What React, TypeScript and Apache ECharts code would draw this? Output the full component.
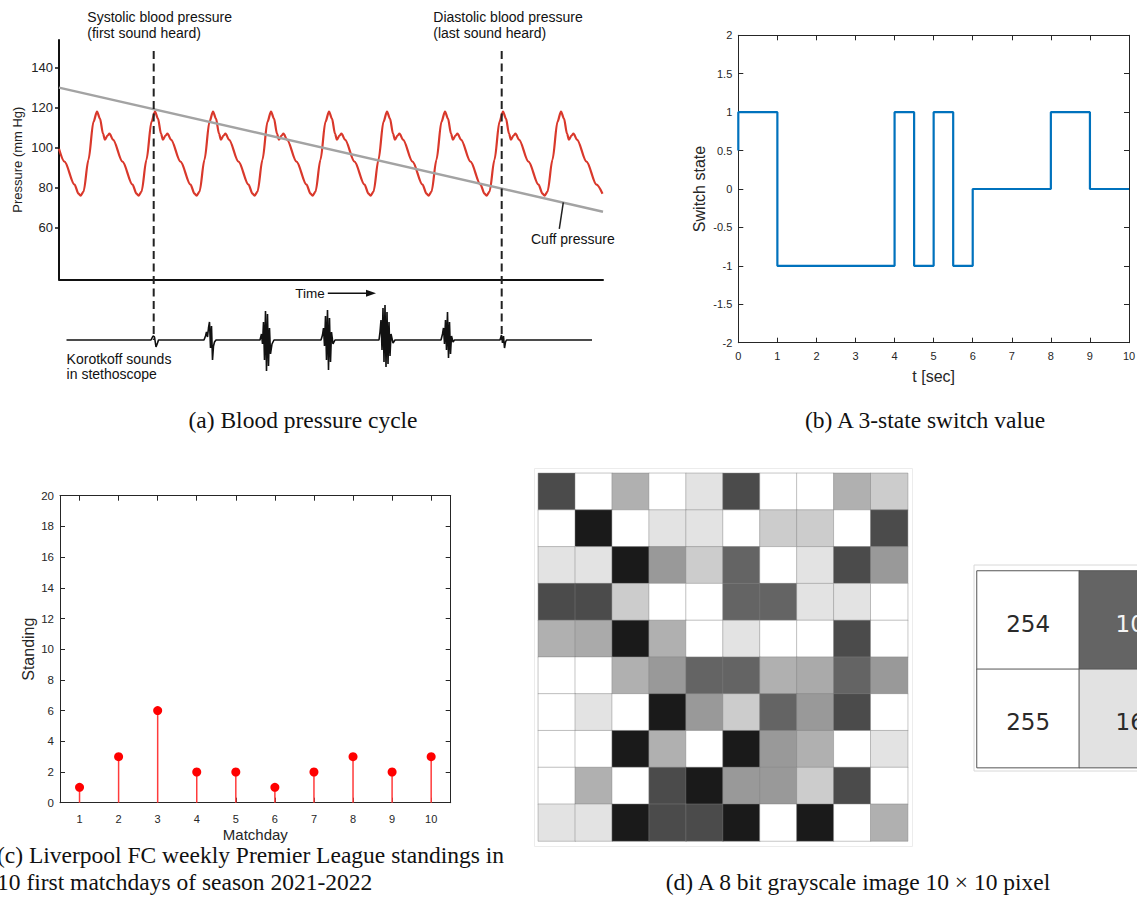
import React, { useEffect, useRef } from "react";
import * as echarts from "echarts";

// ---------- (a) Blood pressure cycle (time axis in arbitrary units 0..544) ----------
const pulseTime = [
  0, 5.5, 15.5, 19.5,
  21.5, 24.5, 29.5, 34.5, 38, 41, 44, 46, 48.5, 50.5, 54, 63.5, 73.5, 77.5,
  79.5, 82.5, 87.5, 92.5, 96, 99, 102, 104, 106.5, 108.5, 112, 121.5, 131.5, 135.5,
  137.5, 140.5, 145.5, 150.5, 154, 157, 160, 162, 164.5, 166.5, 170, 179.5, 189.5, 193.5,
  195.5, 198.5, 203.5, 208.5, 212, 215, 218, 220, 222.5, 224.5, 228, 237.5, 247.5, 251.5,
  253.5, 256.5, 261.5, 266.5, 270, 273, 276, 278, 280.5, 282.5, 286, 295.5, 305.5, 309.5,
  311.5, 314.5, 319.5, 324.5, 328, 331, 334, 336, 338.5, 340.5, 344, 353.5, 363.5, 367.5,
  369.5, 372.5, 377.5, 382.5, 386, 389, 392, 394, 396.5, 398.5, 402, 411.5, 421.5, 425.5,
  427.5, 430.5, 435.5, 440.5, 444, 447, 450, 452, 454.5, 456.5, 460, 469.5, 479.5, 483.5,
  485.5, 488.5, 493.5, 498.5, 502, 505, 508, 510, 512.5, 514.5, 518, 527.5, 537.5, 543.5,
];
const pulsePressure = [
  99.4, 93, 81.5, 77,
  76, 78, 94, 113, 118, 114.5, 107, 104, 106, 107, 104, 93, 81.5, 77,
  76, 78, 94, 113, 118, 114.5, 107, 104, 106, 107, 104, 93, 81.5, 77,
  76, 78, 94, 113, 118, 114.5, 107, 104, 106, 107, 104, 93, 81.5, 77,
  76, 78, 94, 113, 118, 114.5, 107, 104, 106, 107, 104, 93, 81.5, 77,
  76, 78, 94, 113, 118, 114.5, 107, 104, 106, 107, 104, 93, 81.5, 77,
  76, 78, 94, 113, 118, 114.5, 107, 104, 106, 107, 104, 93, 81.5, 77,
  76, 78, 94, 113, 118, 114.5, 107, 104, 106, 107, 104, 93, 81.5, 77,
  76, 78, 94, 113, 118, 114.5, 107, 104, 106, 107, 104, 93, 81.5, 77,
  76, 78, 94, 113, 118, 114.5, 107, 104, 106, 107, 104, 93, 81.5, 77,
];
const cuffTime = [0, 544];
const cuffPressure = [130, 68];
const cuffLeaderTime = [504.3, 500.3];
const cuffLeaderPressure = [72.7, 59.4];
const pressureTicks = [60, 80, 100, 120, 140];
const soundMarkerTimes = [94.7, 442.7];
const markerTop = 289;
// Korotkoff trace: time, amplitude (px-like units above baseline)
const korotkoffTime = [
  7.5,
  92, 94, 95.5, 97, 98.5, 99.5,
  145, 146.5, 147.5, 148.5, 149.5, 150.5, 151.5, 152.5, 153.5, 154.5, 155.5, 157,
  201, 202.5, 203.5, 204.5, 205.5, 206.5, 207.5, 208.5, 209.5, 210.5, 211.5, 213, 215,
  262, 263.5, 264.5, 265.5, 266.5, 267.5, 268.5, 269.5, 270.5, 271.5, 272.5, 274, 276,
  320, 321, 322, 323, 324, 325, 326, 327, 328, 329, 330, 331, 332, 334, 336,
  382, 383.5, 384.5, 385.5, 386.5, 387.5, 388.5, 389.5, 390.5, 391.5, 392.5, 394, 395.5,
  441, 442.5, 443.5, 444.5, 445.5, 446.5, 447.5,
  533,
];
const korotkoffAmp = [
  0,
  0, 4, 3, -7, -3, 0,
  0, 4, 8, 3, 12, 18, -8, 14, -20, -6, -2, 0,
  0, 6, -4, 18, -20, 29, -31, 26, -26, 12, -14, -4, 0,
  0, 5, 12, -6, 24, -20, 30, -30, 22, -22, 8, -4, 0,
  0, 8, 20, -10, 32, -22, 35, -27, 28, -24, 18, -16, 6, -3, 0,
  0, 6, 12, -4, 20, -10, 28, -18, 18, -14, 4, -2, 0,
  0, 5, -3, 4, -8, -2, 0,
  0,
];

// ---------- (b) 3-state switch ----------
const switchTime = [0, 0, 1, 1, 4, 4, 4.5, 4.5, 5, 5, 5.5, 5.5, 6, 6, 8, 8, 9, 9, 10];
const switchState = [0.5, 1, 1, -1, -1, 1, 1, -1, -1, 1, 1, -1, -1, 0, 0, 1, 1, 0, 0];

// ---------- (c) Liverpool standings ----------
const matchdays = ["1", "2", "3", "4", "5", "6", "7", "8", "9", "10"];
const standings = [1, 3, 6, 2, 2, 1, 2, 3, 2, 3];

// ---------- (d) 10x10 grayscale image ----------
const pixelCols = ["c1", "c2", "c3", "c4", "c5", "c6", "c7", "c8", "c9", "c10"];
const pixelRows = ["r1", "r2", "r3", "r4", "r5", "r6", "r7", "r8", "r9", "r10"];
const grayRows = [
  [75, 255, 176, 255, 227, 75, 255, 255, 176, 204],
  [255, 26, 255, 227, 227, 255, 204, 204, 255, 75],
  [227, 227, 26, 153, 204, 100, 255, 227, 75, 153],
  [75, 75, 204, 255, 255, 100, 100, 227, 227, 255],
  [176, 170, 26, 176, 255, 227, 255, 255, 75, 255],
  [255, 255, 176, 153, 100, 100, 176, 170, 100, 153],
  [255, 227, 255, 26, 153, 204, 100, 153, 75, 255],
  [255, 255, 26, 176, 255, 26, 153, 176, 255, 227],
  [255, 176, 255, 75, 26, 153, 153, 204, 75, 255],
  [227, 227, 26, 75, 75, 26, 255, 26, 255, 176],
];
const zoomCols = ["z1", "z2"];
const zoomRows = ["y1", "y2"];
const zoomCells = [
  [0, 0, 254],
  [1, 0, 102],
  [0, 1, 255],
  [1, 1, 165],
];

const SANS = '"Liberation Sans", Arial, Helvetica, sans-serif';
const SERIF = '"Liberation Serif", "Times New Roman", serif';
const AX = "#262626";
const CAPTION = 23.5;

function boxAxis(extra: any) {
  return {
    axisLine: { show: true, onZero: false, lineStyle: { color: AX, width: 1 } },
    axisTick: { show: true, inside: true, length: 5, lineStyle: { color: AX, width: 1 } },
    splitLine: { show: false },
    ...extra,
  };
}

function text(x: number, y: number, t: string, size: number, family: string, align = "left", vAlign = "middle", lh?: number) {
  return {
    type: "text",
    x,
    y,
    silent: true,
    style: {
      text: t,
      fill: "#111",
      fontSize: size,
      fontFamily: family,
      align,
      verticalAlign: vAlign,
      textAlign: align,
      textVerticalAlign: vAlign,
      lineHeight: lh,
    },
  };
}

export default function App() {
  const ref = useRef<HTMLDivElement>(null);
  useEffect(() => {
    if (!ref.current) return;
    const chart = echarts.init(ref.current, null, { renderer: "svg" });

    const heatData: any[] = [];
    grayRows.forEach((row, r) => row.forEach((v, c) => heatData.push([c, r, v])));

    const option: any = {
      animation: false,
      backgroundColor: "#ffffff",
      textStyle: { fontFamily: SANS },
      grid: [
        { left: 59, top: 40, width: 544, height: 239.3, outerBoundsMode: "none" },
        { left: 59, top: 40, width: 544, height: 340, outerBoundsMode: "none" },
        { left: 738.3, top: 35.3, width: 390.7, height: 307.4, outerBoundsMode: "none" },
        { left: 60, top: 495.7, width: 390.7, height: 307, outerBoundsMode: "none" },
        { left: 538.3, top: 473.3, width: 369.4, height: 367.7, outerBoundsMode: "none" },
        { left: 977, top: 571, width: 204.6, height: 196.6, outerBoundsMode: "none" },
      ],
      xAxis: [
        {
          gridIndex: 0, type: "value", min: 0, max: 544,
          axisLine: { show: true, onZero: false, lineStyle: { color: "#111", width: 2 } },
          axisTick: { show: false }, axisLabel: { show: false }, splitLine: { show: false },
        },
        { gridIndex: 1, type: "value", min: 0, max: 544, show: false },
        boxAxis({
          gridIndex: 2, type: "value", min: 0, max: 10, interval: 1, position: "bottom",
          name: "t [sec]", nameLocation: "middle", nameGap: 26,
          nameTextStyle: { fontSize: 16, color: AX, fontFamily: SANS },
          axisLabel: { fontSize: 11, color: AX, margin: 8, fontFamily: SANS },
        }),
        boxAxis({
          gridIndex: 2, type: "value", min: 0, max: 10, interval: 1, position: "top",
          axisLabel: { show: false },
        }),
        boxAxis({
          gridIndex: 3, type: "category", data: matchdays, position: "bottom", boundaryGap: true,
          name: "Matchday", nameLocation: "middle", nameGap: 24,
          nameTextStyle: { fontSize: 15, color: AX, fontFamily: SANS },
          axisTick: { show: true, inside: true, length: 5, alignWithLabel: true, lineStyle: { color: AX } },
          axisLabel: { fontSize: 11, color: AX, margin: 11, interval: 0, fontFamily: SANS },
        }),
        boxAxis({
          gridIndex: 3, type: "category", data: matchdays, position: "top", boundaryGap: true,
          axisTick: { show: true, inside: true, length: 5, alignWithLabel: true, lineStyle: { color: AX } },
          axisLabel: { show: false },
        }),
        { gridIndex: 4, type: "category", data: pixelCols, show: false },
        { gridIndex: 5, type: "category", data: zoomCols, show: false },
      ],
      yAxis: [
        {
          gridIndex: 0, type: "value", min: 34.2, max: 153.8,
          name: "Pressure (mm Hg)", nameLocation: "middle", nameGap: 35,
          nameTextStyle: { fontSize: 13, color: "#222", fontFamily: SANS },
          axisLine: { show: true, onZero: false, lineStyle: { color: "#111", width: 2 } },
          axisTick: { show: true, customValues: pressureTicks, length: 4, lineStyle: { color: "#111", width: 1.5 } },
          axisLabel: { show: true, customValues: pressureTicks, fontSize: 13, color: "#222", margin: 6, fontFamily: SANS },
          splitLine: { show: false },
        },
        { gridIndex: 1, type: "value", min: -40, max: 300, show: false },
        boxAxis({
          gridIndex: 2, type: "value", min: -2, max: 2, interval: 0.5, position: "left",
          name: "Switch state", nameLocation: "middle", nameGap: 31,
          nameTextStyle: { fontSize: 16, color: AX, fontFamily: SANS },
          axisLabel: { fontSize: 11, color: AX, margin: 6, fontFamily: SANS },
        }),
        boxAxis({
          gridIndex: 2, type: "value", min: -2, max: 2, interval: 0.5, position: "right",
          axisLabel: { show: false },
        }),
        boxAxis({
          gridIndex: 3, type: "value", min: 0, max: 20, interval: 2, position: "left",
          name: "Standing", nameLocation: "middle", nameGap: 24,
          nameTextStyle: { fontSize: 16, color: AX, fontFamily: SANS },
          axisLabel: { fontSize: 11.5, color: AX, margin: 6, fontFamily: SANS },
        }),
        boxAxis({
          gridIndex: 3, type: "value", min: 0, max: 20, interval: 2, position: "right",
          axisLabel: { show: false },
        }),
        { gridIndex: 4, type: "category", data: pixelRows, inverse: true, show: false },
        { gridIndex: 5, type: "category", data: zoomRows, inverse: true, show: false },
      ],
      visualMap: [
        {
          type: "continuous", show: false, seriesIndex: 9, min: 0, max: 255,
          inRange: { color: ["#000000", "#ffffff"] },
        },
        {
          type: "piecewise", show: false, seriesIndex: 10,
          pieces: [
            { min: 250, max: 255, color: "#ffffff" },
            { value: 102, color: "#646464" },
            { value: 165, color: "#e2e2e2" },
          ],
        },
      ],
      series: [
        {
          type: "line", xAxisIndex: 0, yAxisIndex: 0, showSymbol: false, smooth: 0.3, smoothMonotone: "x",
          data: pulseTime.map((t, i) => [t, pulsePressure[i]]),
          lineStyle: { color: "#d9382b", width: 2.2 }, z: 3,
        },
        {
          type: "line", xAxisIndex: 0, yAxisIndex: 0, showSymbol: false,
          data: cuffTime.map((t, i) => [t, cuffPressure[i]]),
          lineStyle: { color: "#a3a3a3", width: 2.5 }, z: 4,
        },
        {
          type: "line", xAxisIndex: 0, yAxisIndex: 0, showSymbol: false, clip: false,
          data: cuffLeaderTime.map((t, i) => [t, cuffLeaderPressure[i]]),
          lineStyle: { color: "#222", width: 1.5 }, z: 4,
        },
        {
          type: "line", xAxisIndex: 1, yAxisIndex: 1, showSymbol: false, clip: false,
          data: [[soundMarkerTimes[0], markerTop], [soundMarkerTimes[0], 0]],
          lineStyle: { color: "#222", width: 2, type: [8, 4.5] }, z: 5,
        },
        {
          type: "line", xAxisIndex: 1, yAxisIndex: 1, showSymbol: false, clip: false,
          data: [[soundMarkerTimes[1], markerTop], [soundMarkerTimes[1], 0]],
          lineStyle: { color: "#222", width: 2, type: [8, 4.5] }, z: 5,
        },
        {
          type: "line", xAxisIndex: 1, yAxisIndex: 1, showSymbol: false, clip: false,
          data: korotkoffTime.map((t, i) => [t, korotkoffAmp[i]]),
          lineStyle: { color: "#111", width: 1.6 }, z: 5,
        },
        {
          type: "line", xAxisIndex: 2, yAxisIndex: 2, showSymbol: false, clip: false,
          data: switchTime.map((t, i) => [t, switchState[i]]),
          lineStyle: { color: "#0072BD", width: 2.2 },
        },
        {
          type: "bar", xAxisIndex: 4, yAxisIndex: 4, barWidth: 1.5, data: standings,
          itemStyle: { color: "#ff3b3b" },
        },
        {
          type: "scatter", xAxisIndex: 4, yAxisIndex: 4, symbolSize: 9, data: standings,
          itemStyle: { color: "#ff0000", opacity: 1 }, z: 5,
        },
        {
          type: "heatmap", xAxisIndex: 6, yAxisIndex: 6, data: heatData,
          itemStyle: { borderColor: "rgba(130,130,130,0.45)", borderWidth: 1 },
          emphasis: { disabled: true },
        },
        {
          type: "heatmap", xAxisIndex: 7, yAxisIndex: 7,
          data: zoomCells.map(([c, r, v]) => ({
            value: [c, r, v],
            label: { color: v < 128 ? "#f4f4f4" : "#2a2a2a", offset: [c === 1 ? 7 : 0, 3.5] },
          })),
          label: {
            show: true, fontSize: 23, fontFamily: '"DejaVu Sans", sans-serif',
            formatter: (p: any) => String(p.value[2]),
          },
          itemStyle: { borderColor: "#555", borderWidth: 1 },
          emphasis: { disabled: true },
        },
      ],
      graphic: [
        text(87.3, 9.3, "Systolic blood pressure\n(first sound heard)", 14, SANS, "left", "top", 16),
        text(433.3, 9.3, "Diastolic blood pressure\n(last sound heard)", 14, SANS, "left", "top", 16),
        text(531, 239, "Cuff pressure", 14, SANS),
        text(295.3, 293.3, "Time", 13.5, SANS),
        {
          type: "line", silent: true,
          shape: { x1: 327.8, y1: 293.3, x2: 368, y2: 293.3 },
          style: { stroke: "#111", lineWidth: 1.5 },
        },
        {
          type: "polygon", silent: true,
          shape: { points: [[366, 289.8], [376, 293.3], [366, 296.8]] },
          style: { fill: "#111" },
        },
        text(66.6, 351, "Korotkoff sounds\nin stethoscope", 14, SANS, "left", "top", 15),
        {
          type: "rect", silent: true,
          shape: { x: 534.5, y: 468.5, width: 378, height: 378 },
          style: { fill: "none", stroke: "#ececec", lineWidth: 1 },
        },
        {
          type: "rect", silent: true,
          shape: { x: 974, y: 565, width: 200, height: 206 },
          style: { fill: "none", stroke: "#d8d8d8", lineWidth: 1 },
        },
        text(303, 420, "(a) Blood pressure cycle", CAPTION, SERIF, "center"),
        text(925, 420, "(b) A 3-state switch value", CAPTION, SERIF, "center"),
        text(-3, 855, "(c) Liverpool FC weekly Premier League standings in", CAPTION, SERIF, "left"),
        text(-3, 882, "10 first matchdays of season 2021-2022", CAPTION, SERIF, "left"),
        text(858, 882, "(d) A 8 bit grayscale image 10 \u00d7 10 pixel", CAPTION, SERIF, "center"),
      ],
    };

    chart.setOption(option);
    return () => chart.dispose();
  }, []);

  return (
    <div
      ref={ref}
      style={{ position: "absolute", left: 0, top: 0, width: 1137, height: 919, background: "#fff" }}
    />
  );
}
